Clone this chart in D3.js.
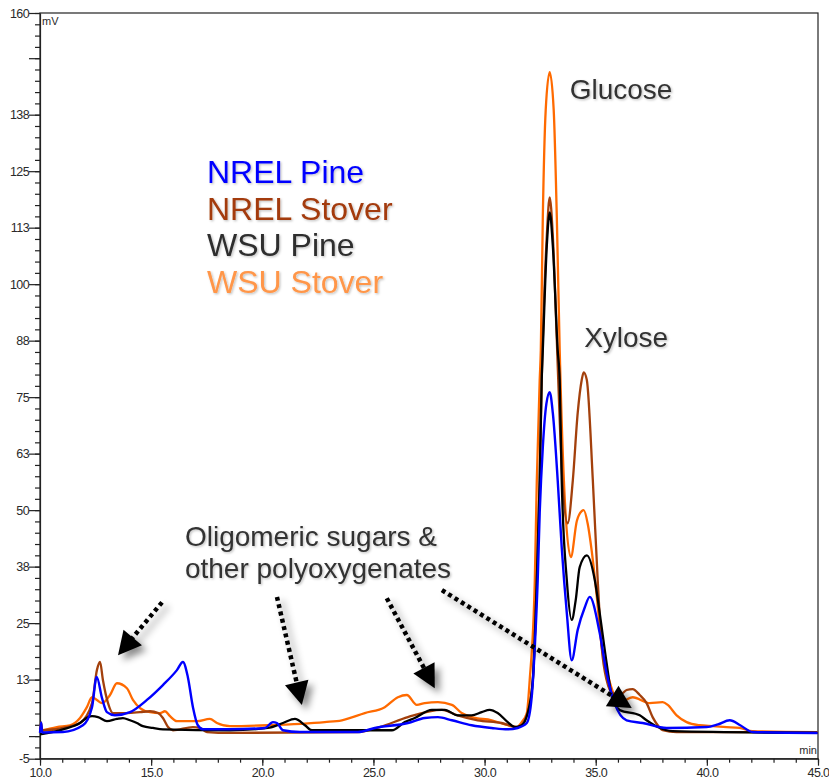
<!DOCTYPE html>
<html>
<head>
<meta charset="utf-8">
<script src="https://cdn.jsdelivr.net/npm/d3@7"></script>
<style>
  html, body { margin: 0; padding: 0; background: #fff; overflow: hidden; }
  svg { display: block; font-family: "Liberation Sans", Arial, sans-serif; }
</style>
</head>
<body>
<svg id="chart"></svg>
<script>
// chromatogram traces, [retention time (min), signal (mV)]
var nrelPine = [
  [10.00,0.7],[10.05,3.0],[10.10,0.8],[11.03,0.9],[11.93,2.4],[12.34,6.4],[12.55,13.1],[12.79,8.4],
  [13.01,5.3],[13.37,4.6],[14.05,5.3],[14.81,8.0],[15.53,11.3],[16.16,14.6],[16.43,16.4],[16.65,13.1],
  [16.88,6.4],[17.10,2.4],[17.33,1.5],[18.54,1.5],[20.12,1.8],[20.48,3.1],[20.66,2.9],[20.93,1.3],
  [21.69,0.9],[24.30,0.9],[25.06,1.8],[26.55,2.9],[27.31,4.0],[27.90,4.2],[28.53,3.5],[29.42,2.4],
  [30.32,1.8],[31.04,1.5],[31.49,1.8],[31.90,2.9],[32.12,8.6],[32.26,19.7],[32.39,34.5],[32.48,49.3],
  [32.62,63.9],[32.78,73.5],[32.93,76.1],[33.07,71.5],[33.29,56.6],[33.47,41.8],[33.70,27.2],[33.92,16.8],
  [34.19,23.5],[34.51,28.5],[34.73,30.8],[35.18,22.8],[35.49,13.9],[35.85,7.3],[36.39,3.5],[37.11,2.9],
  [38.19,1.8],[39.99,2.0],[40.50,2.6],[41.03,3.5],[41.50,2.4],[42.06,0.9],[44.98,0.7]
];
var nrelStover = [
  [10.00,1.5],[10.05,3.0],[10.10,1.3],[11.21,2.0],[11.80,2.9],[12.34,7.3],[12.56,14.6],[12.70,16.4],
  [12.83,12.4],[13.06,7.3],[13.28,5.1],[13.91,5.1],[14.50,5.3],[14.95,5.5],[15.31,5.1],[15.53,4.0],
  [15.76,2.0],[15.98,1.3],[16.88,2.0],[17.19,1.8],[17.51,0.9],[18.54,0.7],[24.30,0.9],[25.29,2.0],
  [26.55,4.2],[28.08,5.8],[28.79,4.6],[29.69,3.5],[30.77,2.9],[31.49,2.0],[31.94,5.1],[32.17,12.4],
  [32.35,34.5],[32.48,56.6],[32.57,78.8],[32.62,87.6],[32.80,110.7],[32.93,119.2],[33.07,110.7],[33.25,87.6],
  [33.38,69.9],[33.52,55.0],[33.74,47.1],[33.97,56.6],[34.19,71.5],[34.37,78.8],[34.46,80.5],[34.60,78.8],
  [34.87,56.6],[35.09,34.5],[35.27,19.7],[35.49,12.4],[35.76,9.5],[36.08,9.1],[36.39,10.2],[36.66,10.4],
  [36.98,9.1],[37.29,7.3],[37.56,4.2],[37.79,2.4],[38.01,1.3],[38.64,0.9],[44.98,0.9]
];
var wsuPine = [
  [10.00,0.4],[11.03,1.5],[11.80,2.9],[12.16,4.2],[12.34,4.4],[12.61,4.2],[13.01,3.3],[13.46,3.8],
  [13.73,4.0],[14.05,3.5],[14.36,2.9],[14.63,2.2],[15.08,1.8],[15.53,1.5],[18.54,1.3],[20.25,1.8],
  [20.93,2.9],[21.47,3.8],[21.92,2.4],[22.23,1.3],[25.83,1.3],[26.41,3.1],[26.86,4.0],[27.63,5.8],
  [28.21,5.8],[28.79,4.6],[29.42,4.6],[29.87,5.3],[30.23,5.8],[30.59,5.1],[31.04,3.1],[31.36,2.0],
  [31.67,2.4],[31.94,5.1],[32.17,12.4],[32.35,34.5],[32.48,56.6],[32.57,78.8],[32.62,85.4],[32.80,108.5],
  [32.93,115.9],[33.07,108.5],[33.29,85.4],[33.38,78.8],[33.47,56.6],[33.70,34.5],[33.92,25.7],[34.10,30.1],
  [34.28,37.4],[34.60,40.0],[34.96,34.5],[35.18,27.2],[35.49,16.2],[35.76,8.0],[36.08,5.8],[36.98,4.6],
  [37.29,3.5],[37.79,2.0],[38.46,1.1],[44.98,0.7]
];
var wsuStover = [
  [10.00,1.1],[10.76,2.0],[11.35,2.4],[11.80,4.0],[12.11,6.4],[12.34,8.6],[12.56,8.0],[12.79,7.3],
  [13.15,9.1],[13.46,11.7],[13.91,10.6],[14.18,8.0],[14.50,6.2],[14.95,5.3],[15.40,5.1],[15.62,5.5],
  [15.85,4.4],[16.16,3.3],[17.06,3.3],[17.64,3.8],[17.96,2.9],[18.54,2.2],[20.25,2.4],[22.81,3.1],
  [23.58,3.5],[24.61,5.1],[25.51,6.4],[26.10,8.6],[26.50,9.1],[26.95,6.9],[27.31,7.3],[27.90,7.5],
  [28.53,6.9],[28.97,5.1],[29.42,4.2],[30.32,3.5],[31.04,2.4],[31.45,2.0],[31.67,3.1],[31.90,5.1],
  [32.03,12.4],[32.26,34.5],[32.35,56.6],[32.48,78.8],[32.53,85.4],[32.62,114.8],[32.75,138.5],[32.93,146.9],
  [33.11,138.5],[33.25,114.8],[33.38,85.4],[33.61,52.2],[33.88,39.6],[34.15,47.6],[34.37,49.8],[34.46,50.0],
  [34.64,47.0],[34.82,41.0],[35.05,30.8],[35.27,19.7],[35.49,14.6],[36.08,7.5],[36.66,8.6],[37.43,7.3],
  [38.01,7.5],[38.24,6.9],[38.64,4.6],[39.09,3.1],[39.68,2.4],[40.26,2.2],[40.89,2.0],[41.47,1.8],
  [42.06,1.1],[44.98,0.9]
];

var seriesNames = ["NREL Pine", "NREL Stover", "WSU Pine", "WSU Stover"];
var seriesData = [nrelPine, nrelStover, wsuPine, wsuStover];
var lineColors = ["#0000ff", "#a3400c", "#000000", "#ff6a00"];
var legendColors = ["#0000ff", "#a33a0c", "#2e2e2e", "#ff9648"];
var drawOrder = [3, 1, 2, 0];

var xMajorTicks = [10, 15, 20, 25, 30, 35, 40, 45];
var yLabelTicks = [-5, 12.5, 25, 37.5, 50, 62.5, 75, 87.5, 100, 112.5, 125, 137.5, 160];
var yMajorTicks = [-5, 0, 12.5, 25, 37.5, 50, 62.5, 75, 87.5, 100, 112.5, 125, 137.5, 150, 160];

// peak labels and arrows, in data units
var peakLabels = [["Glucose", 33.83, 140.9], ["Xylose", 34.48, 86.0]];
var noteLines = ["Oligomeric sugars &", "other polyoxygenates"];
var noteAnchor = [16.52, 42.0];
var arrows = [
  [15.49, 29.6, 13.51, 17.9],
  [20.66, 30.8, 21.78, 6.9],
  [25.60, 30.5, 27.76, 10.6],
  [28.08, 32.3, 36.62, 6.2]
];

var width = 829, height = 781;
var margin = {top: 13, right: 11, bottom: 22.3, left: 40};

var svg = d3.select("#chart").attr("width", width).attr("height", height);

var defs = svg.append("defs");
defs.append("filter").attr("id", "shadow")
    .attr("x", "-50%").attr("y", "-50%").attr("width", "200%").attr("height", "200%")
  .append("feDropShadow")
    .attr("dx", 5).attr("dy", 5).attr("stdDeviation", 3.5)
    .attr("flood-color", "#000").attr("flood-opacity", 0.45);
defs.append("filter").attr("id", "tshadow")
    .attr("x", "-10%").attr("y", "-30%").attr("width", "130%").attr("height", "160%")
  .append("feDropShadow")
    .attr("dx", 1.2).attr("dy", 1.2).attr("stdDeviation", 0.8)
    .attr("flood-color", "#000").attr("flood-opacity", 0.25);

var x = d3.scaleLinear().domain([10, 45]).range([margin.left, width - margin.right]);
var y = d3.scaleLinear().domain([-5, 160]).range([height - margin.bottom, margin.top]);

// frame
svg.append("rect")
  .attr("x", x(10)).attr("y", y(160))
  .attr("width", x(45) - x(10)).attr("height", y(-5) - y(160))
  .attr("fill", "none").attr("stroke", "#222").attr("stroke-width", 1.2);

// y axis
var yMinor = d3.range(-5, 160.01, 2.5);
svg.append("g").attr("transform", "translate(" + x(10) + ",0)")
  .call(d3.axisLeft(y).tickValues(yMinor).tickSize(5).tickSizeOuter(0).tickFormat(""))
  .call(function(g) { g.select(".domain").remove(); g.selectAll("line").attr("stroke", "#222").attr("stroke-width", 1.2); });
svg.append("g").attr("transform", "translate(" + x(10) + ",0)")
  .call(d3.axisLeft(y).tickValues(yMajorTicks).tickSize(11).tickSizeOuter(0)
    .tickFormat(function(d) { return yLabelTicks.indexOf(d) >= 0 ? String(Math.round(d)) : ""; }))
  .call(function(g) {
    g.select(".domain").attr("stroke", "#222").attr("stroke-width", 1.2);
    g.selectAll("line").attr("stroke", "#222").attr("stroke-width", 1.2);
    g.selectAll("text").attr("x", -11).attr("font-size", "12.5px")
      .attr("font-family", "Liberation Sans, Arial, sans-serif").attr("fill", "#2a2a2a")
      .attr("letter-spacing", "-0.6px");
  });

// x axis
svg.append("g").attr("transform", "translate(0," + y(-5) + ")")
  .call(d3.axisBottom(x).tickValues(d3.range(10, 45.01, 1)).tickSize(4).tickSizeOuter(0).tickFormat(""))
  .call(function(g) { g.select(".domain").remove(); g.selectAll("line").attr("stroke", "#222").attr("stroke-width", 1.2); });
svg.append("g").attr("transform", "translate(0," + y(-5) + ")")
  .call(d3.axisBottom(x).tickValues(xMajorTicks).tickSize(7).tickSizeOuter(0).tickFormat(d3.format(".1f")))
  .call(function(g) {
    g.select(".domain").attr("stroke", "#222").attr("stroke-width", 1.2);
    g.selectAll("line").attr("stroke", "#222").attr("stroke-width", 1.2);
    g.selectAll("text").attr("y", 9).attr("font-size", "12.5px")
      .attr("font-family", "Liberation Sans, Arial, sans-serif").attr("fill", "#2a2a2a")
      .attr("letter-spacing", "-0.6px");
  });

svg.append("text").attr("x", x(10) + 2).attr("y", y(160) + 12)
  .attr("font-size", "11px").attr("fill", "#2a2a2a").text("mV");
svg.append("text").attr("x", x(45) - 1).attr("y", y(-5) - 5)
  .attr("text-anchor", "end").attr("font-size", "11px").attr("fill", "#2a2a2a").text("min");

// traces
var line = d3.line()
  .x(function(d) { return x(d[0]); })
  .y(function(d) { return y(d[1]); })
  .curve(d3.curveMonotoneX);

svg.append("g").selectAll("path")
  .data(drawOrder)
  .join("path")
    .attr("d", function(i) { return line(seriesData[i]); })
    .attr("fill", "none")
    .attr("stroke", function(i) { return lineColors[i]; })
    .attr("stroke-width", function(i) { return i === 0 ? 2.4 : 2.3; })
    .attr("stroke-linejoin", "round");

// arrows
var ag = svg.append("g").attr("filter", "url(#shadow)");
arrows.forEach(function(a) {
  var x0 = x(a[0]), y0 = y(a[1]), x1 = x(a[2]), y1 = y(a[3]);
  var dx = x1 - x0, dy = y1 - y0, len = Math.sqrt(dx * dx + dy * dy);
  var ux = dx / len, uy = dy / len;
  var headL = 23, headW = 12;
  var bx = x1 - ux * headL, by = y1 - uy * headL;
  ag.append("line")
    .attr("x1", x0).attr("y1", y0).attr("x2", bx + ux * 2).attr("y2", by + uy * 2)
    .attr("stroke", "#000").attr("stroke-width", 4.5)
    .attr("stroke-dasharray", "4,3.5");
  ag.append("path")
    .attr("d", "M" + x1 + "," + y1 +
               "L" + (bx - uy * headW) + "," + (by + ux * headW) +
               "L" + (bx + uy * headW) + "," + (by - ux * headW) + "Z")
    .attr("fill", "#000");
});

// annotations
var tg = svg.append("g").attr("filter", "url(#tshadow)");
peakLabels.forEach(function(p) {
  tg.append("text").attr("x", x(p[1])).attr("y", y(p[2]))
    .attr("font-size", "28px").attr("fill", "#333").text(p[0]);
});
noteLines.forEach(function(s, i) {
  tg.append("text").attr("x", x(noteAnchor[0])).attr("y", y(noteAnchor[1]) + i * 32)
    .attr("font-size", "28px").attr("fill", "#333").text(s);
});

// legend
seriesNames.forEach(function(name, i) {
  tg.append("text").attr("x", 207).attr("y", 183 + i * 36.7)
    .attr("font-size", "32px").attr("fill", legendColors[i]).text(name);
});
</script>
</body>
</html>
